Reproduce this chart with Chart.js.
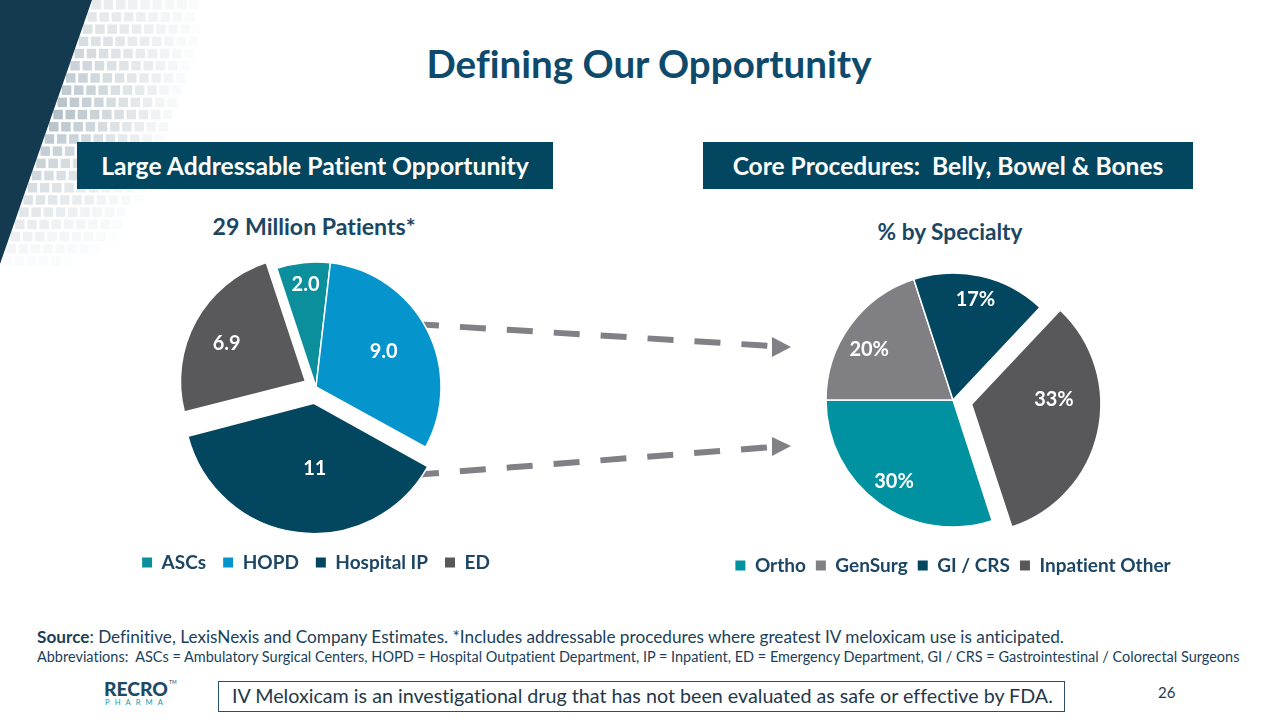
<!DOCTYPE html>
<html>
<head>
<meta charset="utf-8">
<title>Defining Our Opportunity</title>
<script src="https://cdn.jsdelivr.net/npm/chart.js@4.4.1/dist/chart.umd.min.js"></script>
<style>
  html, body { margin: 0; padding: 0; background: #fff; }
  #slide { position: relative; width: 1280px; height: 720px; overflow: hidden; font-family: Lato, "Open Sans", sans-serif; font-variant-ligatures: none; }
  .t { position: absolute; white-space: pre; line-height: 1; transform: translateY(-50%); }
  .c { transform: translate(-50%, -50%); }
  .hdr { position: absolute; top: 142px; height: 47px; background: #02475F; }
  .hdr .t { left: 50%; top: 50%; color: #fff; font-weight: 700; font-size: 22px; }
  .chartbox { position: absolute; }
  #deco, #arrows { position: absolute; left: 0; top: 0; }
</style>
</head>
<body>
<div id="slide">
  <svg id="deco" width="200" height="280"></svg>
  <svg id="arrows" width="1280" height="720">
    <line x1="413" y1="324" x2="772" y2="346" stroke="#808086" stroke-width="6" stroke-dasharray="26 21"/>
    <polygon points="772,337 791,347 772,357" fill="#808086"/>
    <line x1="413" y1="475" x2="772" y2="447" stroke="#808086" stroke-width="6" stroke-dasharray="26 21"/>
    <polygon points="772,437 791,446 772,456" fill="#808086"/>
  </svg>

  <div class="t c" style="left:649px; top:63px; font-size:40px; font-weight:700; color:#0D4A6B;" data-w="445">Defining Our Opportunity</div>

  <div class="hdr" style="left:77px; width:476px;"><div class="t c" data-w="428">Large Addressable Patient Opportunity</div></div>
  <div class="hdr" style="left:703px; width:490px;"><div class="t c" data-w="431">Core Procedures:  Belly, Bowel &amp; Bones</div></div>

  <div class="t c" style="left:314px; top:227px; font-size:22px; font-weight:700; color:#1A4763;" data-w="203">29 Million Patients*</div>
  <div class="t c" style="left:950px; top:232px; font-size:22px; font-weight:700; color:#1A4763;" data-w="145">% by Specialty</div>

  <div class="chartbox" style="left:116px; top:200px; width:400px; height:382px;"><canvas id="patientsChart"></canvas></div>
  <div class="chartbox" style="left:693px; top:200px; width:520px; height:385px;"><canvas id="specialtyChart"></canvas></div>

  <div class="t" style="left:37px; top:637px; font-size:16px; color:#1B3F5A;" data-w="1028"><b>Source</b>: Definitive, LexisNexis and Company Estimates. *Includes addressable procedures where greatest IV meloxicam use is anticipated.</div>
  <div class="t" style="left:37px; top:657px; font-size:14px; color:#1B3F5A;" data-w="1204">Abbreviations:  ASCs = Ambulatory Surgical Centers, HOPD = Hospital Outpatient Department, IP = Inpatient, ED = Emergency Department, GI / CRS = Gastrointestinal / Colorectal Surgeons</div>

  <div style="position:absolute; left:218px; top:681px; width:845px; height:29px; border:1px solid #2A5068;"></div>
  <div class="t" style="left:232px; top:696px; font-size:18px; color:#24384A;" data-w="821">IV Meloxicam is an investigational drug that has not been evaluated as safe or effective by FDA.</div>

  <div class="t" style="left:104px; top:689px; font-size:15px; font-weight:900; color:#1E4A63;" data-w="64">RECRO</div>
  <div class="t" style="left:169px; top:682px; font-size:5px; color:#1E4A63;">TM</div>
  <div class="t" style="left:105px; top:703px; font-size:8px; letter-spacing:5px; color:#1A9BAA;" data-w="62">PHARMA</div>

  <div class="t" style="left:1158px; top:692px; font-size:15px; color:#1F3A4F;">26</div>
</div>

<script>
// Large Addressable Patient Opportunity (millions of patients)
const patientCategories = ["ASCs", "HOPD", "Hospital IP", "ED"];
const patientMillions = [2.0, 9.0, 11, 6.9];

// Core Procedures: % by specialty
const specialtyCategories = ["Ortho", "GenSurg", "GI / CRS", "Inpatient Other"];
const specialtyShares = [30, 20, 17, 33];

// fit text widths to the slide
document.querySelectorAll("[data-w]").forEach(el => {
  const target = +el.dataset.w;
  const w = el.getBoundingClientRect().width;
  const fs = parseFloat(getComputedStyle(el).fontSize);
  el.style.fontSize = (fs * target / w) + "px";
});

// left-edge decoration
(function () {
  const svg = document.getElementById("deco");
  let s = '<polygon points="0,0 92,0 0,264" fill="#133A4F"/>';
  for (let r = 0; r < 22; r++) {
    const y = r * 12.2;
    const edge = 92 - (y + 10) * 92 / 264;
    for (let c = 0; c < 11; c++) {
      const x = edge + 3 + c * 12.2;
      const a = 0.5 * (1 - c / 10) * Math.max(0, 1 - Math.abs(y - 110) / 160);
      if (a > 0.02) s += `<rect x="${x.toFixed(1)}" y="${y.toFixed(1)}" width="9.5" height="9.5" fill="#6A8090" opacity="${a.toFixed(2)}"/>`;
    }
  }
  svg.innerHTML = s;
})();

// no ligatures in canvas text
const plainText = {
  id: "plainText",
  beforeDraw(chart) {
    chart.ctx.textRendering = "optimizeSpeed";
    chart.ctx.fontVariantLigatures = "none";
  }
};

// white value labels inside the slices (radius fraction, angle nudge in degrees)
function sliceLabels(texts, radii, nudges) {
  return {
    id: "sliceLabels",
    afterDatasetsDraw(chart) {
      const ctx = chart.ctx;
      const arcs = chart.getDatasetMeta(0).data;
      ctx.save();
      ctx.fillStyle = "#fff";
      ctx.font = "bold 20px Lato";
      ctx.textAlign = "center";
      ctx.textBaseline = "middle";
      arcs.forEach((arc, i) => {
        const mid = (arc.startAngle + arc.endAngle) / 2;
        const off = (arc.options.offset || 0) / 4;
        const cx = arc.x + Math.cos(mid) * off;
        const cy = arc.y + Math.sin(mid) * off;
        const a = mid + nudges[i] * Math.PI / 180;
        const d = radii[i] * arc.outerRadius;
        ctx.fillText(texts[i], cx + Math.cos(a) * d, cy + Math.sin(a) * d);
      });
      ctx.restore();
    }
  };
}

function legendOpts(pad) {
  return {
    position: "bottom",
    labels: {
      color: "#1C4664",
      font: { family: "Lato", size: 19, weight: "bold" },
      boxWidth: 10,
      boxHeight: 10,
      padding: pad,
      generateLabels(chart) {
        return Chart.overrides.pie.plugins.legend.labels.generateLabels(chart)
          .map(l => Object.assign(l, { lineWidth: 0 }));
      }
    }
  };
}

new Chart(document.getElementById("patientsChart"), {
  type: "pie",
  data: {
    labels: patientCategories,
    datasets: [{
      data: patientMillions,
      backgroundColor: ["#0B8F9C", "#0594CC", "#02475F", "#59595B"],
      borderColor: "#fff",
      borderWidth: 1.5,
      offset: [0, 0, 66, 48]
    }]
  },
  options: {
    responsive: true,
    maintainAspectRatio: false,
    animation: false,
    events: [],
    rotation: -18.3,
    radius: 125,
    layout: { padding: { top: 38 } },
    plugins: { legend: legendOpts(17), tooltip: { enabled: false } }
  },
  plugins: [plainText, sliceLabels(patientMillions.map(v => v.toPrecision(2)), [0.82, 0.61, 0.52, 0.7], [0, 0, -8, -3])]
});

new Chart(document.getElementById("specialtyChart"), {
  type: "pie",
  data: {
    labels: specialtyCategories,
    datasets: [{
      data: specialtyShares,
      backgroundColor: ["#0092A0", "#807F83", "#02475F", "#58585A"],
      borderColor: "#fff",
      borderWidth: 1.5,
      offset: [0, 0, 0, 76]
    }]
  },
  options: {
    responsive: true,
    maintainAspectRatio: false,
    animation: false,
    events: [],
    rotation: 162,
    radius: 127,
    layout: { padding: { top: 54 } },
    plugins: { legend: legendOpts(10), tooltip: { enabled: false } }
  },
  plugins: [plainText, sliceLabels(specialtyShares.map(v => v + "%"), [0.79, 0.77, 0.81, 0.65], [0, -5, 0, -16])]
});
</script>
</body>
</html>
